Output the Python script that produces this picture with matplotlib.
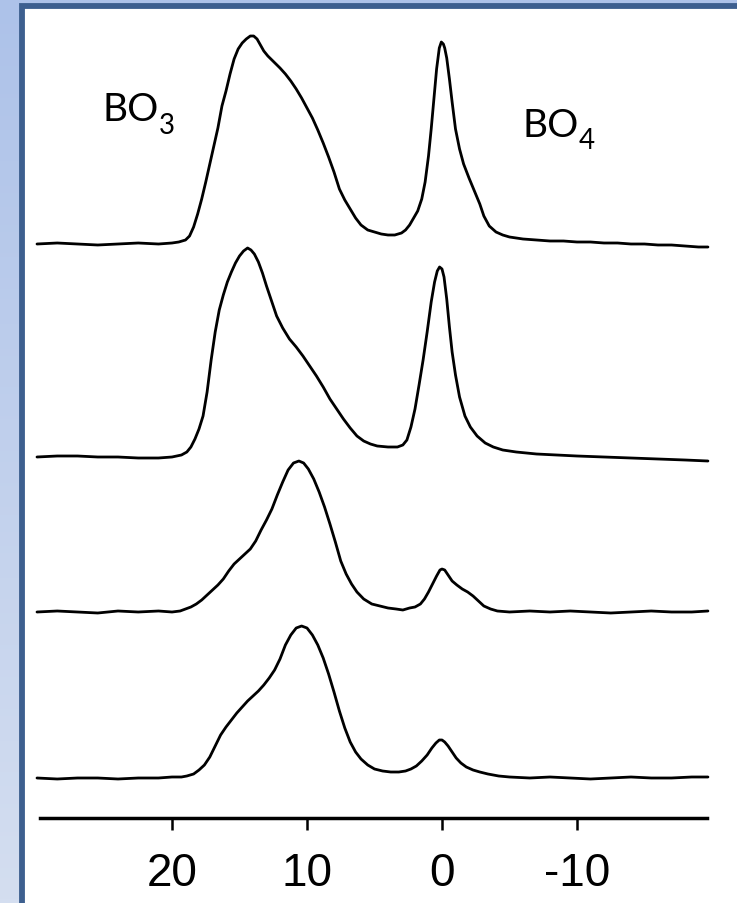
import numpy as np
import matplotlib
matplotlib.use("Agg")
import matplotlib.pyplot as plt
from matplotlib.patches import Rectangle

# ---------------- data (ppm, intensity) ----------------
ppm1 = [30, 28.5, 27, 25.5, 24, 22.5, 21, 20, 19.5, 19.0, 18.7, 18.4, 18.1, 17.8, 17.5,
        17.2, 16.9, 16.6, 16.3, 16.0, 15.7, 15.4, 15.1, 14.8, 14.5, 14.2, 13.95, 13.7,
        13.45, 13.2, 12.9, 12.6, 12.3, 12.0, 11.6, 11.2, 10.8, 10.4, 10.0, 9.6, 9.2, 8.8,
        8.4, 8.0, 7.6, 7.2, 6.8, 6.4, 6.0, 5.5, 5.0, 4.5, 4.0, 3.5, 3.0, 2.7, 2.4, 2.1,
        1.8, 1.5, 1.25, 1.0, 0.8, 0.6, 0.4, 0.2, 0.05, -0.1, -0.2, -0.35, -0.55, -0.75,
        -1.0, -1.3, -1.6, -2.0, -2.4, -2.8, -3.1, -3.5, -4.0, -4.5, -5.0, -6, -7, -8, -9,
        -10, -11, -12, -13, -14, -15, -16, -17, -18, -19, -19.7]
int1 = [0, 1, 0, -1, 0, 1, 0, 1, 2, 4, 8, 17, 30, 45, 62,
        80, 98, 116, 138, 153, 170, 185, 195, 201, 205, 208, 208, 205,
        199, 193, 188, 184, 180, 176, 170, 163, 155, 146, 136, 126, 114, 101,
        87, 72, 55, 44, 35, 26, 19, 14, 12, 10, 9, 9, 11, 14, 19, 26,
        33, 45, 62, 88, 115, 145, 175, 196, 202, 200, 196, 186, 165, 142,
        115, 95, 80, 66, 53, 40, 28, 18, 12, 9, 7, 5, 4, 3, 3,
        2, 2, 1, 1, 0, 0, -1, -1, -2, -3, -3]

ppm2 = [30, 28.5, 27, 25.5, 24, 22.5, 21, 20, 19.3, 18.9, 18.6, 18.3, 18.0, 17.7, 17.4,
        17.1, 16.8, 16.5, 16.2, 15.9, 15.6, 15.3, 15.0, 14.7, 14.4, 14.15, 13.9, 13.6,
        13.3, 13.0, 12.6, 12.25, 11.8, 11.3, 10.8, 10.3, 9.8, 9.3, 8.8, 8.3, 7.8, 7.3,
        6.8, 6.3, 5.8, 5.3, 4.8, 4.0, 3.3, 2.9, 2.6, 2.3, 2.0, 1.7, 1.4, 1.1, 0.8, 0.55,
        0.35, 0.18, 0.0, -0.15, -0.35, -0.55, -0.75, -1.0, -1.3, -1.7, -2.1, -2.6, -3.2,
        -3.8, -4.5, -5.5, -7, -8.5, -10, -12, -14, -16, -18, -19.7]
int2 = [0, 1, 1, 0, 0, -1, -1, 0, 2, 5, 10, 18, 28, 41, 65,
        97, 125, 147, 162, 175, 185, 194, 201, 206, 209, 207, 203, 195,
        184, 171, 155, 141, 129, 118, 110, 101, 91, 81, 70, 58, 48, 38,
        29, 21, 16, 13, 11, 10, 10, 12, 17, 30, 48, 72, 97, 125, 155, 175,
        186, 190, 188, 180, 158, 130, 105, 82, 60, 41, 30, 21, 14,
        10, 7, 5, 3, 2, 1, 0, -1, -2, -3, -4]

ppm3 = [30, 28.5, 27, 25.5, 24, 22.5, 21, 20, 19.4, 19.0, 18.6, 18.2, 17.8, 17.4, 17.0,
        16.6, 16.2, 15.8, 15.4, 15.0, 14.6, 14.2, 13.8, 13.4, 13.0, 12.6, 12.2, 11.8,
        11.4, 11.0, 10.6, 10.25, 9.9, 9.5, 9.1, 8.7, 8.3, 7.9, 7.5, 7.1, 6.7, 6.3, 5.8,
        5.2, 4.6, 4.0, 3.4, 2.9, 2.4, 2.0, 1.6, 1.3, 1.0, 0.7, 0.4, 0.15, 0.0, -0.2,
        -0.45, -0.75, -1.1, -1.5, -1.9, -2.3, -2.7, -3.1, -3.6, -4.1, -5, -6.5, -8,
        -9.5, -11, -12.5, -14, -15.5, -17, -18.5, -19.7]
int3 = [0, 1, 0, -1, 1, 0, 1, 0, 1, 3, 5, 8, 12, 17, 22,
        27, 33, 41, 48, 53, 58, 63, 71, 82, 92, 103, 117, 130,
        142, 149, 151, 149, 143, 133, 120, 105, 88, 70, 51, 38, 28, 20, 13,
        8, 6, 4, 3, 2, 4, 5, 8, 13, 20, 28, 36, 42, 43, 42,
        37, 31, 27, 23, 20, 16, 11, 6, 3, 1, 0, 1, 0,
        1, 0, -1, 0, 1, 0, 0, 1]

ppm4 = [30, 28.5, 27, 25.5, 24, 22.5, 21, 20, 19.3, 18.9, 18.4, 18.0, 17.6, 17.2, 16.8,
        16.4, 16.0, 15.6, 15.2, 14.8, 14.4, 14.0, 13.6, 13.2, 12.8, 12.4, 12.0, 11.6,
        11.2, 10.8, 10.4, 10.0, 9.6, 9.2, 8.8, 8.4, 8.0, 7.6, 7.2, 6.8, 6.4, 6.0, 5.5,
        5.0, 4.4, 3.8, 3.2, 2.7, 2.3, 1.9, 1.5, 1.1, 0.75, 0.45, 0.2, 0.0, -0.2, -0.45,
        -0.75, -1.05, -1.4, -1.8, -2.3, -2.8, -3.4, -4.2, -5, -6.5, -8, -9.5, -11,
        -12.5, -14, -15.5, -17, -18.5, -19.7]
int4 = [0, -1, 0, 0, -1, 0, 0, 1, 1, 2, 4, 8, 13, 21, 32,
        43, 51, 58, 65, 71, 77, 82, 87, 93, 100, 108, 119, 133,
        143, 150, 152, 150, 143, 133, 120, 104, 86, 67, 50, 36, 26, 19, 13,
        9, 7, 6, 6, 7, 9, 12, 17, 23, 30, 35, 38, 38, 36, 32,
        26, 20, 15, 11, 8, 6, 4, 2, 1, 0, 1, 0, -1,
        0, 1, 0, 0, 1, 1]

offsets = [574, 361, 206, 40]
tick_vals = [20, 10, 0, -10]
tick_labels = ["20", "10", "0", "-10"]

W, H = 737, 904
fig = plt.figure(figsize=(W / 100, H / 100), dpi=100)

# ---------------- background frame ----------------
bg = fig.add_axes([0, 0, 1, 1])
top_c = np.array([0xad, 0xc2, 0xe9]) / 255
bot_c = np.array([0xd4, 0xde, 0xf0]) / 255
t = np.linspace(0, 1, 256)[:, None, None]
grad = top_c[None, None, :] * (1 - t) + bot_c[None, None, :] * t
bg.imshow(grad, extent=[0, W, 0, H], aspect="auto", origin="upper")
bg.add_patch(Rectangle((22, -50), 900, H - 6.5 + 50, facecolor="white",
                       edgecolor="#3d5f8f", linewidth=4.2))
bg.set_xlim(0, W)
bg.set_ylim(0, H)
bg.axis("off")

# ---------------- spectra ----------------
x_left = (442 - 40) / 13.5
x_right = (442 - 707) / 13.5
ax = fig.add_axes([40 / W, (H - 819) / H, (707 - 40) / W, (819 - 15) / H])
ax.patch.set_visible(False)
for p, v, off in zip([ppm1, ppm2, ppm3, ppm4], [int1, int2, int3, int4], offsets):
    ax.plot(p, np.array(v) + off, color="black", linewidth=2.0, clip_on=False,
            solid_joinstyle="round", solid_capstyle="round")
ax.set_xlim(x_left, x_right)
ax.set_ylim(0, 819 - 15)
for s in ["top", "left", "right"]:
    ax.spines[s].set_visible(False)
ax.spines["bottom"].set_linewidth(2.5)
ax.set_yticks([])
ax.set_xticks(tick_vals)
ax.set_xticklabels(tick_labels, fontfamily="Liberation Sans", fontsize=33)
ax.tick_params(axis="x", direction="out", length=8.5, width=1.8, pad=15)

# ---------------- labels ----------------
fig.text(103, H - 121, "BO", fontsize=28, ha="left", va="baseline", fontfamily="Lato")
fig.text(159, H - 134, "3", fontsize=20, ha="left", va="baseline", fontfamily="Lato")
fig.text(523, H - 137, "BO", fontsize=28, ha="left", va="baseline", fontfamily="Lato")
fig.text(579, H - 149, "4", fontsize=20, ha="left", va="baseline", fontfamily="Lato")
for t_ in fig.texts:
    t_.set_transform(None)

fig.savefig("out.png", dpi=100)
